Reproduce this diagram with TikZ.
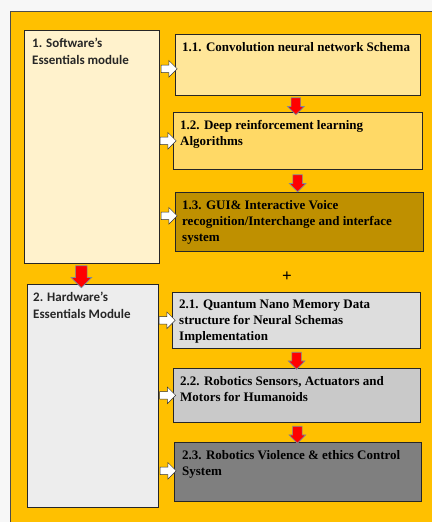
\documentclass[tikz,border=0pt]{standalone}
\usepackage{fontspec}
\setmainfont{Liberation Serif}
\newfontfamily\calib{Carlito}
\usetikzlibrary{positioning,calc,shapes.arrows}

\definecolor{pagegray}{HTML}{F7F7F7}
\definecolor{panel}{HTML}{FFC000}
\definecolor{softfill}{HTML}{FFF2CC}
\definecolor{cnnfill}{HTML}{FFE699}
\definecolor{drlfill}{HTML}{FFD966}
\definecolor{guifill}{HTML}{BF9000}
\definecolor{hardfill}{HTML}{EDEDED}
\definecolor{memfill}{HTML}{DDDDDD}
\definecolor{sensfill}{HTML}{C9C9C9}
\definecolor{ethfill}{HTML}{7F7F7F}
\definecolor{arrowline}{HTML}{7F8799}

\begin{document}
\begin{tikzpicture}[
  x=1pt, y=-1pt,
  box/.style = {
    rectangle, draw=black!85, line width=0.7pt, anchor=north west,
    inner sep=0pt,
  },
  boxtext/.style = {
    anchor=north west, inner sep=0pt, align=left,
    font=\bfseries\fontsize{13}{16}\selectfont,
  },
  modtext/.style = {
    anchor=north west, inner sep=0pt, align=left,
    font=\calib\bfseries\fontsize{13}{17}\selectfont, text=black!85,
  },
  harrow/.style = {
    single arrow, draw=black!80, fill=white, line width=0.5pt,
    inner xsep=0pt, inner ysep=3.5pt, minimum height=16pt,
    single arrow head extend=4.5pt,
  },
  varrow/.style = {
    single arrow, draw=arrowline, fill=red, line width=0.6pt,
    rotate=-90, inner xsep=0pt, inner ysep=4.5pt, minimum height=17pt,
    single arrow head extend=3.5pt,
  },
]
  \useasboundingbox (0,0) rectangle (432,522);
  \fill[pagegray] (0,0) rectangle (432,522);
  \fill[panel] (10,11) rectangle (432,522);
  \draw[black!70, line width=0.6pt] (10,522) -- (10,11) -- (432,11);

  % software part
  \node[box, fill=softfill, minimum width=135pt, minimum height=233pt] (soft) at (24,30) {};
  \node[modtext] (softlbl) at ([shift={(8pt,-8pt)}]soft.north west) {1. Software’s\\Essentials module};

  \node[box, fill=cnnfill, minimum width=245pt, minimum height=61pt] (cnn) at (175,34) {};
  \node[boxtext] (cnnlbl) at ([shift={(7pt,-8pt)}]cnn.north west) {1.1. Convolution neural network Schema};

  \node[box, fill=drlfill, minimum width=249pt, minimum height=57pt] (drl) at (173,112) {};
  \node[boxtext] (drllbl) at ([shift={(7pt,-8pt)}]drl.north west) {1.2. Deep reinforcement learning\\Algorithms};

  \node[box, fill=guifill, minimum width=248pt, minimum height=59pt] (gui) at (175,192) {};
  \node[boxtext] (guilbl) at ([shift={(7pt,-8pt)}]gui.north west) {1.3. GUI\& Interactive Voice\\recognition/Interchange and interface\\system};

  \node[font=\bfseries\fontsize{17}{17}\selectfont] (plus) at (287,277) {+};

  % hardware part
  \node[box, fill=hardfill, minimum width=131pt, minimum height=223pt] (hard) at (27,284) {};
  \node[modtext] (hardlbl) at ([shift={(6pt,-8pt)}]hard.north west) {2. Hardware’s\\Essentials Module};

  \node[box, fill=memfill, minimum width=248pt, minimum height=56pt] (mem) at (172,292) {};
  \node[boxtext] (memlbl) at ([shift={(7pt,-8pt)}]mem.north west) {2.1. Quantum Nano Memory Data\\structure for Neural Schemas\\Implementation};

  \node[box, fill=sensfill, minimum width=247pt, minimum height=54pt] (sens) at (173,368) {};
  \node[boxtext] (senslbl) at ([shift={(7pt,-8pt)}]sens.north west) {2.2. Robotics Sensors, Actuators and\\Motors for Humanoids};

  \node[box, fill=ethfill, minimum width=247pt, minimum height=59pt] (eth) at (174,442) {};
  \node[boxtext] (ethlbl) at ([shift={(8pt,-8pt)}]eth.north west) {2.3. Robotics Violence \& ethics Control\\System};

  % white arrows from the modules
  \node[harrow] (a-cnn) at ($(soft.east |- cnn.west)!0.5!(cnn.west) + (0,4)$) {};
  \node[harrow] (a-drl) at ($(soft.east |- drl.west)!0.5!(drl.west)$) {};
  \node[harrow] (a-gui) at ($(soft.east |- gui.west)!0.5!(gui.west) + (0,-6)$) {};
  \node[harrow] (a-mem) at ($(hard.east |- mem.west)!0.5!(mem.west)$) {};
  \node[harrow] (a-sens) at ($(hard.east |- sens.west)!0.5!(sens.west)$) {};
  \node[harrow] (a-eth) at ($(hard.east |- eth.west)!0.5!(eth.west) + (0,-1)$) {};

  % red arrows down the chains
  \node[varrow] (cnn-drl) at ($(cnn.south)!0.5!(drl.north) + (-2,0)$) {};
  \node[varrow] (drl-gui) at ($(drl.south)!0.5!(gui.north) + (-1,0)$) {};
  \node[varrow] (mem-sens) at ($(mem.south)!0.5!(sens.north)$) {};
  \node[varrow] (sens-eth) at ($(sens.south)!0.5!(eth.north)$) {};
  \node[varrow, minimum height=22pt, inner ysep=5.5pt, single arrow head extend=4.5pt]
    (soft-hard) at ($(soft.south)!0.5!(hard.north) + (-11,0)$) {};
\end{tikzpicture}
\end{document}
